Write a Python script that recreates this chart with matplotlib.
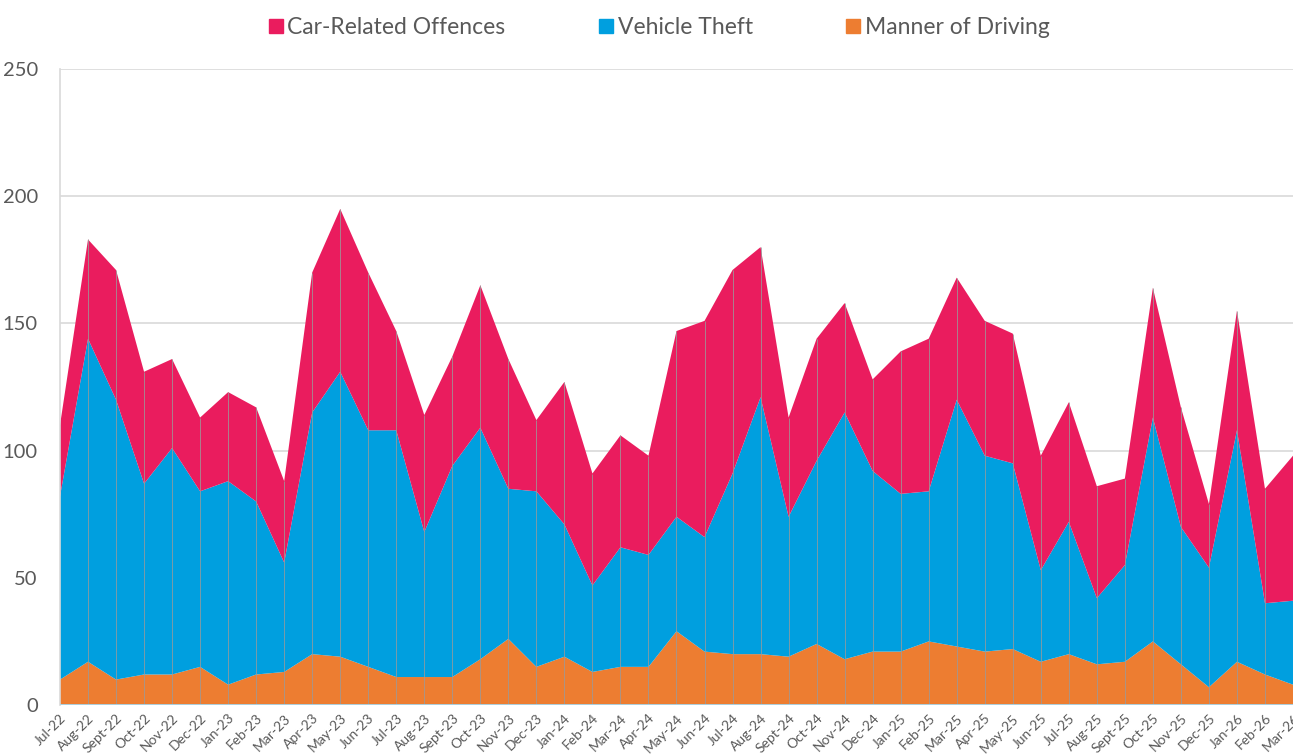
import matplotlib.pyplot as plt
import numpy as np

plt.rcParams['font.family'] = ['Lato', 'DejaVu Sans']

# months Jul-22 .. Mar-26
months = ["Jul-22", "Aug-22", "Sept-22", "Oct-22", "Nov-22", "Dec-22",
          "Jan-23", "Feb-23", "Mar-23", "Apr-23", "May-23", "Jun-23",
          "Jul-23", "Aug-23", "Sept-23", "Oct-23", "Nov-23", "Dec-23",
          "Jan-24", "Feb-24", "Mar-24", "Apr-24", "May-24", "Jun-24",
          "Jul-24", "Aug-24", "Sept-24", "Oct-24", "Nov-24", "Dec-24",
          "Jan-25", "Feb-25", "Mar-25", "Apr-25", "May-25", "Jun-25",
          "Jul-25", "Aug-25", "Sept-25", "Oct-25", "Nov-25", "Dec-25",
          "Jan-26", "Feb-26", "Mar-26"]

manner_of_driving = [10, 17, 10, 12, 12, 15, 8, 12, 13, 20, 19, 15,
                     11, 11, 11, 18, 26, 15, 19, 13, 15, 15, 29, 21,
                     20, 20, 19, 24, 18, 21, 21, 25, 23, 21, 22, 17,
                     20, 16, 17, 25, 16, 7, 17, 12, 8]

vehicle_theft = [72, 127, 110, 75, 89, 69, 80, 68, 43, 95, 112, 93,
                 97, 57, 83, 91, 59, 69, 52, 34, 47, 44, 45, 45,
                 71, 101, 55, 72, 97, 71, 62, 59, 97, 77, 73, 36,
                 52, 26, 38, 88, 54, 47, 91, 28, 33]

car_related = [28, 39, 51, 44, 35, 29, 35, 37, 32, 55, 64, 62,
               39, 46, 43, 56, 51, 28, 56, 44, 44, 39, 73, 85,
               80, 59, 39, 48, 43, 36, 56, 60, 48, 53, 51, 45,
               47, 44, 34, 51, 47, 25, 47, 45, 57]

c_red = "#EA1C5E"
c_blue = "#009FDF"
c_orange = "#ED7D31"

x = np.arange(len(months))
total = np.array(manner_of_driving) + np.array(vehicle_theft) + np.array(car_related)

fig = plt.figure(figsize=(12.93, 7.55), dpi=100)
ax = fig.add_axes([0.0464, 0.0662, 0.9536, 0.8424])

ax.stackplot(x, manner_of_driving, vehicle_theft, car_related,
             colors=[c_orange, c_blue, c_red], linewidth=0, zorder=2)

# thin vertical lines at each month, only inside the filled area
ax.vlines(x[1:], 0, total[1:], color="#9a9a9a", lw=0.7, alpha=0.8, zorder=3)

ax.set_xlim(0, len(months) - 1)
ax.set_ylim(0, 250)
ax.set_yticks([0, 50, 100, 150, 200, 250])
ax.yaxis.grid(True, color="#d9d9d9", lw=1.2, zorder=0)
ax.set_axisbelow(True)
ax.axhline(0, color="#a6d8f0", lw=2, zorder=4)

ax.set_xticks(x)
ax.set_xticklabels(months, rotation=45, ha="right", rotation_mode="anchor",
                   fontsize=10, color="#595959")
ax.tick_params(axis="x", length=0, pad=5)
ax.tick_params(axis="y", length=0, labelsize=14.5, labelcolor="#595959", pad=16)

for s in ["top", "right", "bottom"]:
    ax.spines[s].set_visible(False)
ax.spines["left"].set_color("#d9d9d9")
ax.spines["left"].set_linewidth(1.2)

# legend
handles = [plt.Line2D([], [], marker="s", ls="", color=c, markersize=10)
           for c in [c_red, c_blue, c_orange]]
fig.legend(handles, ["Car-Related Offences", "Vehicle Theft", "Manner of Driving"],
           loc="upper center", bbox_to_anchor=(0.509, 1.005), ncol=3, frameon=False,
           fontsize=16.5, labelcolor="#595959", handletextpad=0.1, columnspacing=4.0,
           handlelength=0.8)

fig.savefig("out.png", dpi=100)
